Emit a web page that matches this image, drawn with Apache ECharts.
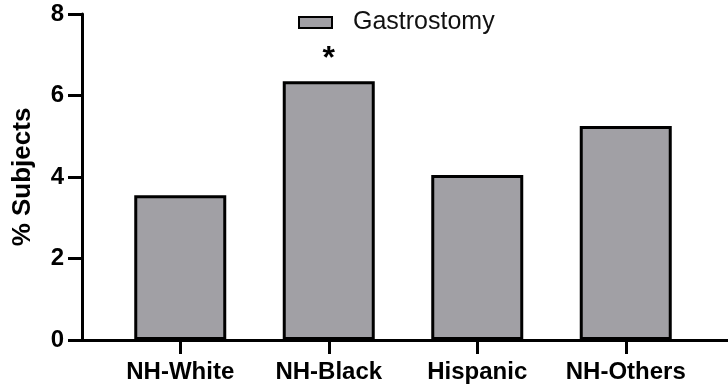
<!DOCTYPE html>
<html>
<head>
<meta charset="utf-8">
<script src="https://cdn.jsdelivr.net/npm/echarts@6/dist/echarts.min.js"></script>
<style>
  html, body { margin: 0; padding: 0; background: #fff; }
  #chart { width: 728px; height: 390px; }
</style>
</head>
<body>
<div id="chart"></div>
<script>
// Share of subjects with gastrostomy, by race/ethnicity group
const categories = ['NH-White', 'NH-Black', 'Hispanic', 'NH-Others'];
const gastrostomy = [3.55, 6.35, 4.05, 5.25];
const significance = ['', '*', '', ''];
const yTicks = { min: 0, max: 8, interval: 2 };

const font = '"Liberation Sans", Arial, Helvetica, sans-serif';
const chart = echarts.init(document.getElementById('chart'), null, { renderer: 'canvas' });

const barData = gastrostomy.map((v, i) => ({
  value: v,
  label: {
    show: significance[i] !== '',
    formatter: significance[i]
  }
}));

chart.setOption({
  animation: false,
  textStyle: { fontFamily: font },
  legend: {
    data: ['Gastrostomy'],
    left: 293,
    top: 5,
    icon: 'rect',
    itemWidth: 33,
    itemHeight: 11,
    textStyle: {
      fontFamily: font,
      fontSize: 25,
      color: '#111',
      padding: [0, 0, 0, 16]
    }
  },
  grid: [
    { left: 106, right: 28, top: 14, bottom: 50 },
    { left: 82, right: 0, top: 14, bottom: 50 }
  ],
  xAxis: [
    {
      type: 'category',
      gridIndex: 0,
      data: categories,
      axisLine: { show: true, lineStyle: { color: '#000', width: 3 } },
      axisTick: { show: true, alignWithLabel: true, length: 14, lineStyle: { color: '#000', width: 3 } },
      axisLabel: {
        interval: 0,
        margin: 20,
        color: '#000',
        fontFamily: font,
        fontSize: 24,
        fontWeight: 'bold'
      }
    },
    {
      // baseline running the full width of the plot
      type: 'value',
      gridIndex: 1,
      min: 0,
      max: 1,
      axisLine: { show: true, lineStyle: { color: '#000', width: 3 } },
      axisTick: { show: false },
      axisLabel: { show: false },
      splitLine: { show: false }
    }
  ],
  yAxis: [
    {
      type: 'value',
      gridIndex: 0,
      min: yTicks.min,
      max: yTicks.max,
      interval: yTicks.interval,
      offset: 24,
      name: '% Subjects',
      nameLocation: 'middle',
      nameGap: 46,
      nameTextStyle: {
        color: '#000',
        fontFamily: font,
        fontSize: 26,
        fontWeight: 'bold'
      },
      axisLine: { show: true, lineStyle: { color: '#000', width: 3 } },
      axisTick: { show: true, length: 14, lineStyle: { color: '#000', width: 3 } },
      axisLabel: {
        margin: 18,
        color: '#000',
        fontFamily: font,
        fontSize: 24,
        fontWeight: 'bold'
      },
      splitLine: { show: false }
    },
    {
      type: 'value',
      gridIndex: 1,
      show: false,
      min: 0,
      max: 1
    }
  ],
  series: [
    {
      name: 'Gastrostomy',
      type: 'bar',
      xAxisIndex: 0,
      yAxisIndex: 0,
      data: barData,
      barWidth: 92,
      itemStyle: {
        color: '#a1a0a5',
        borderColor: '#000',
        borderWidth: 3
      },
      label: {
        position: 'top',
        distance: 6,
        color: '#000',
        fontFamily: font,
        fontSize: 32,
        fontWeight: 'bold'
      }
    }
  ]
});
</script>
</body>
</html>
